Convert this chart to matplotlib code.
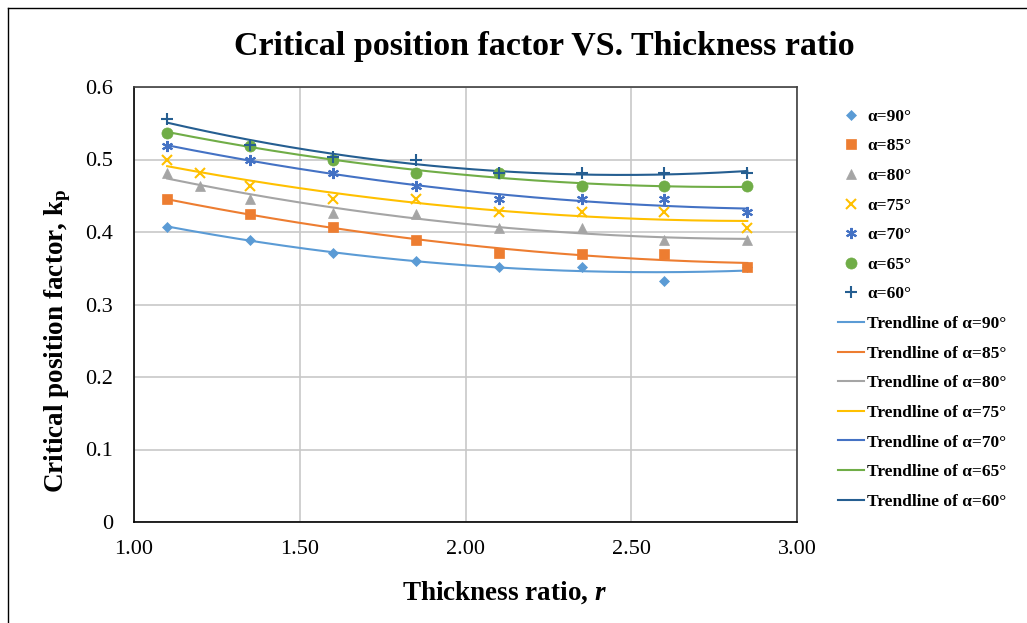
import numpy as np
import matplotlib
matplotlib.use("Agg")
import matplotlib.pyplot as plt
from matplotlib.lines import Line2D

plt.rcParams['font.family'] = ['Liberation Serif', 'DejaVu Serif']
plt.rcParams['mathtext.fontset'] = 'custom'
plt.rcParams['mathtext.rm'] = 'Liberation Serif:bold'
plt.rcParams['mathtext.it'] = 'Liberation Serif:bold:italic'
plt.rcParams['mathtext.bf'] = 'Liberation Serif:bold'

# ---- data ----
r8 = [1.1, 1.35, 1.6, 1.85, 2.1, 2.35, 2.6, 2.85]
r9 = [1.1, 1.2, 1.35, 1.6, 1.85, 2.1, 2.35, 2.6, 2.85]

k90 = [0.407, 0.389, 0.371, 0.360, 0.352, 0.352, 0.333, 0.352]
k85 = [0.445, 0.425, 0.407, 0.389, 0.371, 0.370, 0.370, 0.352]
k80 = [0.482, 0.463, 0.445, 0.426, 0.425, 0.406, 0.406, 0.389, 0.389]
k75 = [0.500, 0.482, 0.463, 0.445, 0.445, 0.427, 0.427, 0.427, 0.406]
k70 = [0.519, 0.500, 0.482, 0.463, 0.445, 0.445, 0.445, 0.427]
k65 = [0.537, 0.519, 0.500, 0.482, 0.481, 0.463, 0.463, 0.463]
k60 = [0.556, 0.520, 0.504, 0.500, 0.482, 0.481, 0.481, 0.482]

labels = ['α=90°', 'α=85°', 'α=80°', 'α=75°', 'α=70°', 'α=65°', 'α=60°']
xticks = [1.00, 1.50, 2.00, 2.50, 3.00]
yticks = [0, 0.1, 0.2, 0.3, 0.4, 0.5, 0.6]

series = [(r8, k90), (r8, k85), (r9, k80), (r9, k75), (r8, k70), (r8, k65), (r8, k60)]
colors = ['#5B9BD5', '#ED7D31', '#A5A5A5', '#FFC000', '#4472C4', '#70AD47', '#255E91']
markers = ['D', 's', '^', 'x', (6, 2, 0), 'o', '+']
msizes = [5.5, 7.5, 7.5, 7.5, 8, 8, 8]

fig = plt.figure(figsize=(10.27, 6.23), dpi=100)
ax = fig.add_axes([134/1027, 1-522/623, (797-134)/1027, (522-87)/623])

marker_handles = []
line_handles = []
for (x, y), c, m, ms, lab in zip(series, colors, markers, msizes, labels):
    x = np.array(x); y = np.array(y)
    h, = ax.plot(x, y, linestyle='none', marker=m, color=c, markersize=ms,
                 markeredgewidth=1.5 if m in ('x', '+', (6, 2, 0)) else 0.5, zorder=4)
    marker_handles.append(h)
for (x, y), c, lab in zip(series, colors, labels):
    x = np.array(x); y = np.array(y)
    coef = np.polyfit(x, y, 2)
    xs = np.linspace(x.min(), x.max(), 200)
    h, = ax.plot(xs, np.polyval(coef, xs), color=c, linewidth=1.5, zorder=3)
    line_handles.append(h)

ax.set_xlim(1.0, 3.0)
ax.set_ylim(0, 0.6)
ax.set_xticks(xticks)
ax.set_xticklabels([f'{v:.2f}' for v in xticks])
ax.set_yticks(yticks)
ax.set_yticklabels(['0' if v == 0 else f'{v:g}' for v in yticks])
ax.tick_params(axis='both', length=0, labelsize=16)
ax.tick_params(axis='y', pad=15)
ax.tick_params(axis='x', pad=13)
ax.grid(True, color='#C8C8C8', linewidth=1.2, zorder=0)
ax.set_axisbelow(True)
for s in ['left', 'bottom']:
    ax.spines[s].set_color('black')
    ax.spines[s].set_linewidth(1.2)
for s in ['top', 'right']:
    ax.spines[s].set_color('#404040')
    ax.spines[s].set_linewidth(1.2)

fig.text(544.5/1027, 1-47/623, 'Critical position factor VS. Thickness ratio', fontsize=24.5,
         fontweight='bold', ha='center', va='center')
ax.set_xlabel('Thickness ratio, $\\mathit{r}$', fontsize=19.5, fontweight='bold')
ax.xaxis.set_label_coords((504.5-134)/663, (522-593)/435)
ax.xaxis.label.set_verticalalignment('center')
ax.set_ylabel('Critical position factor, k$_{\\mathrm{p}}$', fontsize=19.5, fontweight='bold')
ax.yaxis.set_label_coords((58-134)/663, (522-341)/435)
ax.yaxis.label.set_verticalalignment('center')

handles = marker_handles + line_handles
leg_labels = labels + ['Trendline of ' + l for l in labels]
leg = fig.legend(handles, leg_labels, loc='upper left', bbox_to_anchor=(829/1027, 1-100/623),
                 frameon=False, prop={'family': 'Liberation Serif', 'weight': 'bold', 'size': 12.5},
                 handlelength=1.5, handletextpad=0.2, labelspacing=0.775, borderpad=0)

# figure border (top and left)
fig.add_artist(Line2D([8/1027, 8/1027], [0, 1-8/623], transform=fig.transFigure, color='black', linewidth=1))
fig.add_artist(Line2D([8/1027, 1], [1-8/623, 1-8/623], transform=fig.transFigure, color='black', linewidth=1))

fig.savefig('out.png', dpi=100)
